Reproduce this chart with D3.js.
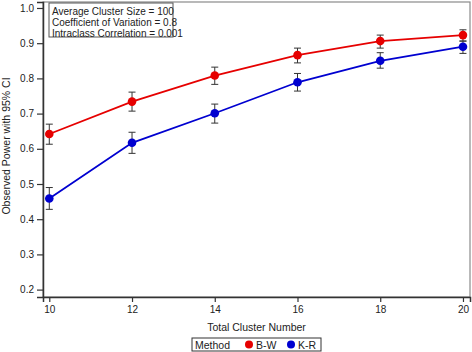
<!DOCTYPE html>
<html>
<head>
<meta charset="utf-8">
<title>Observed power by cluster number</title>
<script src="https://d3js.org/d3.v7.min.js"></script>
<style>
	body { margin: 0; padding: 0; background: #fff; }
	svg { font-family: "Liberation Sans", Arial, sans-serif; }
</style>
</head>
<body>
<div id="graph"></div>
<script>
// data
var clusters = [10, 12, 14, 16, 18, 20];
var methods = ["B-W", "K-R"];
var bwPower = [0.642, 0.734, 0.808, 0.866, 0.906, 0.923];
var bwLower = [0.613, 0.707, 0.783, 0.844, 0.886, 0.906];
var bwUpper = [0.670, 0.761, 0.832, 0.886, 0.923, 0.938];
var krPower = [0.459, 0.617, 0.701, 0.789, 0.850, 0.890];
var krLower = [0.428, 0.587, 0.673, 0.764, 0.829, 0.871];
var krUpper = [0.490, 0.647, 0.727, 0.814, 0.873, 0.906];
var yTicks = [0.2, 0.3, 0.4, 0.5, 0.6, 0.7, 0.8, 0.9, 1.0];
var notes = ["Average Cluster Size = 100", "Coefficient of Variation = 0.8", "Intraclass Correlation = 0.001"];

var colors = { "B-W": "#e60000", "K-R": "#0000d0" };

var width = 472, height = 352;
var margin = { top: 2, right: 2, bottom: 55, left: 43 };

var svg = d3.select("#graph").append("svg")
	.attr("width", width)
	.attr("height", height);

var x = d3.scaleLinear()
	.domain([9.848, 20.17])
	.range([margin.left, width - margin.right]);
var y = d3.scaleLinear()
	.domain([0.179, 1.017])
	.range([height - margin.bottom, margin.top]);

// plot frame (top + right lighter)
svg.append("rect")
	.attr("x", margin.left)
	.attr("y", margin.top)
	.attr("width", width - margin.right - margin.left)
	.attr("height", height - margin.bottom - margin.top)
	.attr("fill", "none")
	.attr("stroke", "#8a8a8a")
	.attr("stroke-width", 1.2);

// axes
var xAxis = svg.append("g")
	.attr("transform", "translate(0," + (height - margin.bottom) + ")")
	.call(d3.axisBottom(x).tickValues(clusters).tickSize(5).tickPadding(4).tickFormat(d3.format("d")));
var yAxis = svg.append("g")
	.attr("transform", "translate(" + margin.left + ",0)")
	.call(d3.axisLeft(y).tickValues(yTicks).tickSize(6).tickPadding(3).tickFormat(d3.format(".1f")));

[xAxis, yAxis].forEach(function (a) {
	a.select(".domain").attr("stroke", "#333").attr("stroke-width", 1.5);
	a.selectAll(".tick line").attr("stroke", "#333").attr("stroke-width", 1.2);
	a.selectAll(".tick text").attr("fill", "#222").style("font-size", "10px").style("font-family", "Liberation Sans, Arial, sans-serif");
});

// axis titles
svg.append("text")
	.attr("x", (margin.left + width - margin.right) / 2)
	.attr("y", 331)
	.attr("text-anchor", "middle")
	.attr("fill", "#222")
	.style("font-size", "10.5px")
	.text("Total Cluster Number");

svg.append("text")
	.attr("transform", "translate(10,146) rotate(-90)")
	.attr("text-anchor", "middle")
	.attr("fill", "#222")
	.style("font-size", "10.5px")
	.text("Observed Power with 95% CI");

// series
var series = [
	{ name: "B-W", power: bwPower, lo: bwLower, hi: bwUpper },
	{ name: "K-R", power: krPower, lo: krLower, hi: krUpper }
];

var line = d3.line()
	.x(function (d, i) { return x(clusters[i]); })
	.y(function (d) { return y(d); });

series.forEach(function (s) {
	svg.append("path")
		.attr("d", line(s.power))
		.attr("fill", "none")
		.attr("stroke", colors[s.name])
		.attr("stroke-width", 1.8);
});

series.forEach(function (s) {
	var g = svg.append("g");
	clusters.forEach(function (c, i) {
		var cx = x(c);
		g.append("line")
			.attr("x1", cx).attr("x2", cx)
			.attr("y1", y(s.lo[i])).attr("y2", y(s.hi[i]))
			.attr("stroke", "#333").attr("stroke-width", 1);
		[s.lo[i], s.hi[i]].forEach(function (v) {
			g.append("line")
				.attr("x1", cx - 3.5).attr("x2", cx + 3.5)
				.attr("y1", y(v)).attr("y2", y(v))
				.attr("stroke", "#333").attr("stroke-width", 1);
		});
		g.append("circle")
			.attr("cx", cx)
			.attr("cy", y(s.power[i]))
			.attr("r", 4.3)
			.attr("fill", colors[s.name]);
	});
});

// annotation box
var note = svg.append("g").attr("transform", "translate(49,3)");
note.append("rect")
	.attr("width", 124).attr("height", 34)
	.attr("fill", "#fff").attr("stroke", "#555").attr("stroke-width", 1);
note.selectAll("text").data(notes).enter().append("text")
	.attr("x", 3)
	.attr("y", function (d, i) { return 11.5 + i * 11; })
	.attr("fill", "#222")
	.style("font-size", "10px")
	.text(function (d) { return d; });

// legend
var leg = svg.append("g").attr("transform", "translate(192,338)");
leg.append("rect")
	.attr("width", 129).attr("height", 13)
	.attr("fill", "#fff").attr("stroke", "#333").attr("stroke-width", 1);
leg.append("text").attr("x", 3).attr("y", 10.5).attr("fill", "#222").style("font-size", "10.5px").text("Method");
methods.forEach(function (m, i) {
	var ox = 57 + i * 42;
	leg.append("circle").attr("cx", ox).attr("cy", 6.5).attr("r", 4).attr("fill", colors[m]);
	leg.append("text").attr("x", ox + 7).attr("y", 10.5).attr("fill", "#222").style("font-size", "10.5px").text(m);
});
</script>
</body>
</html>
